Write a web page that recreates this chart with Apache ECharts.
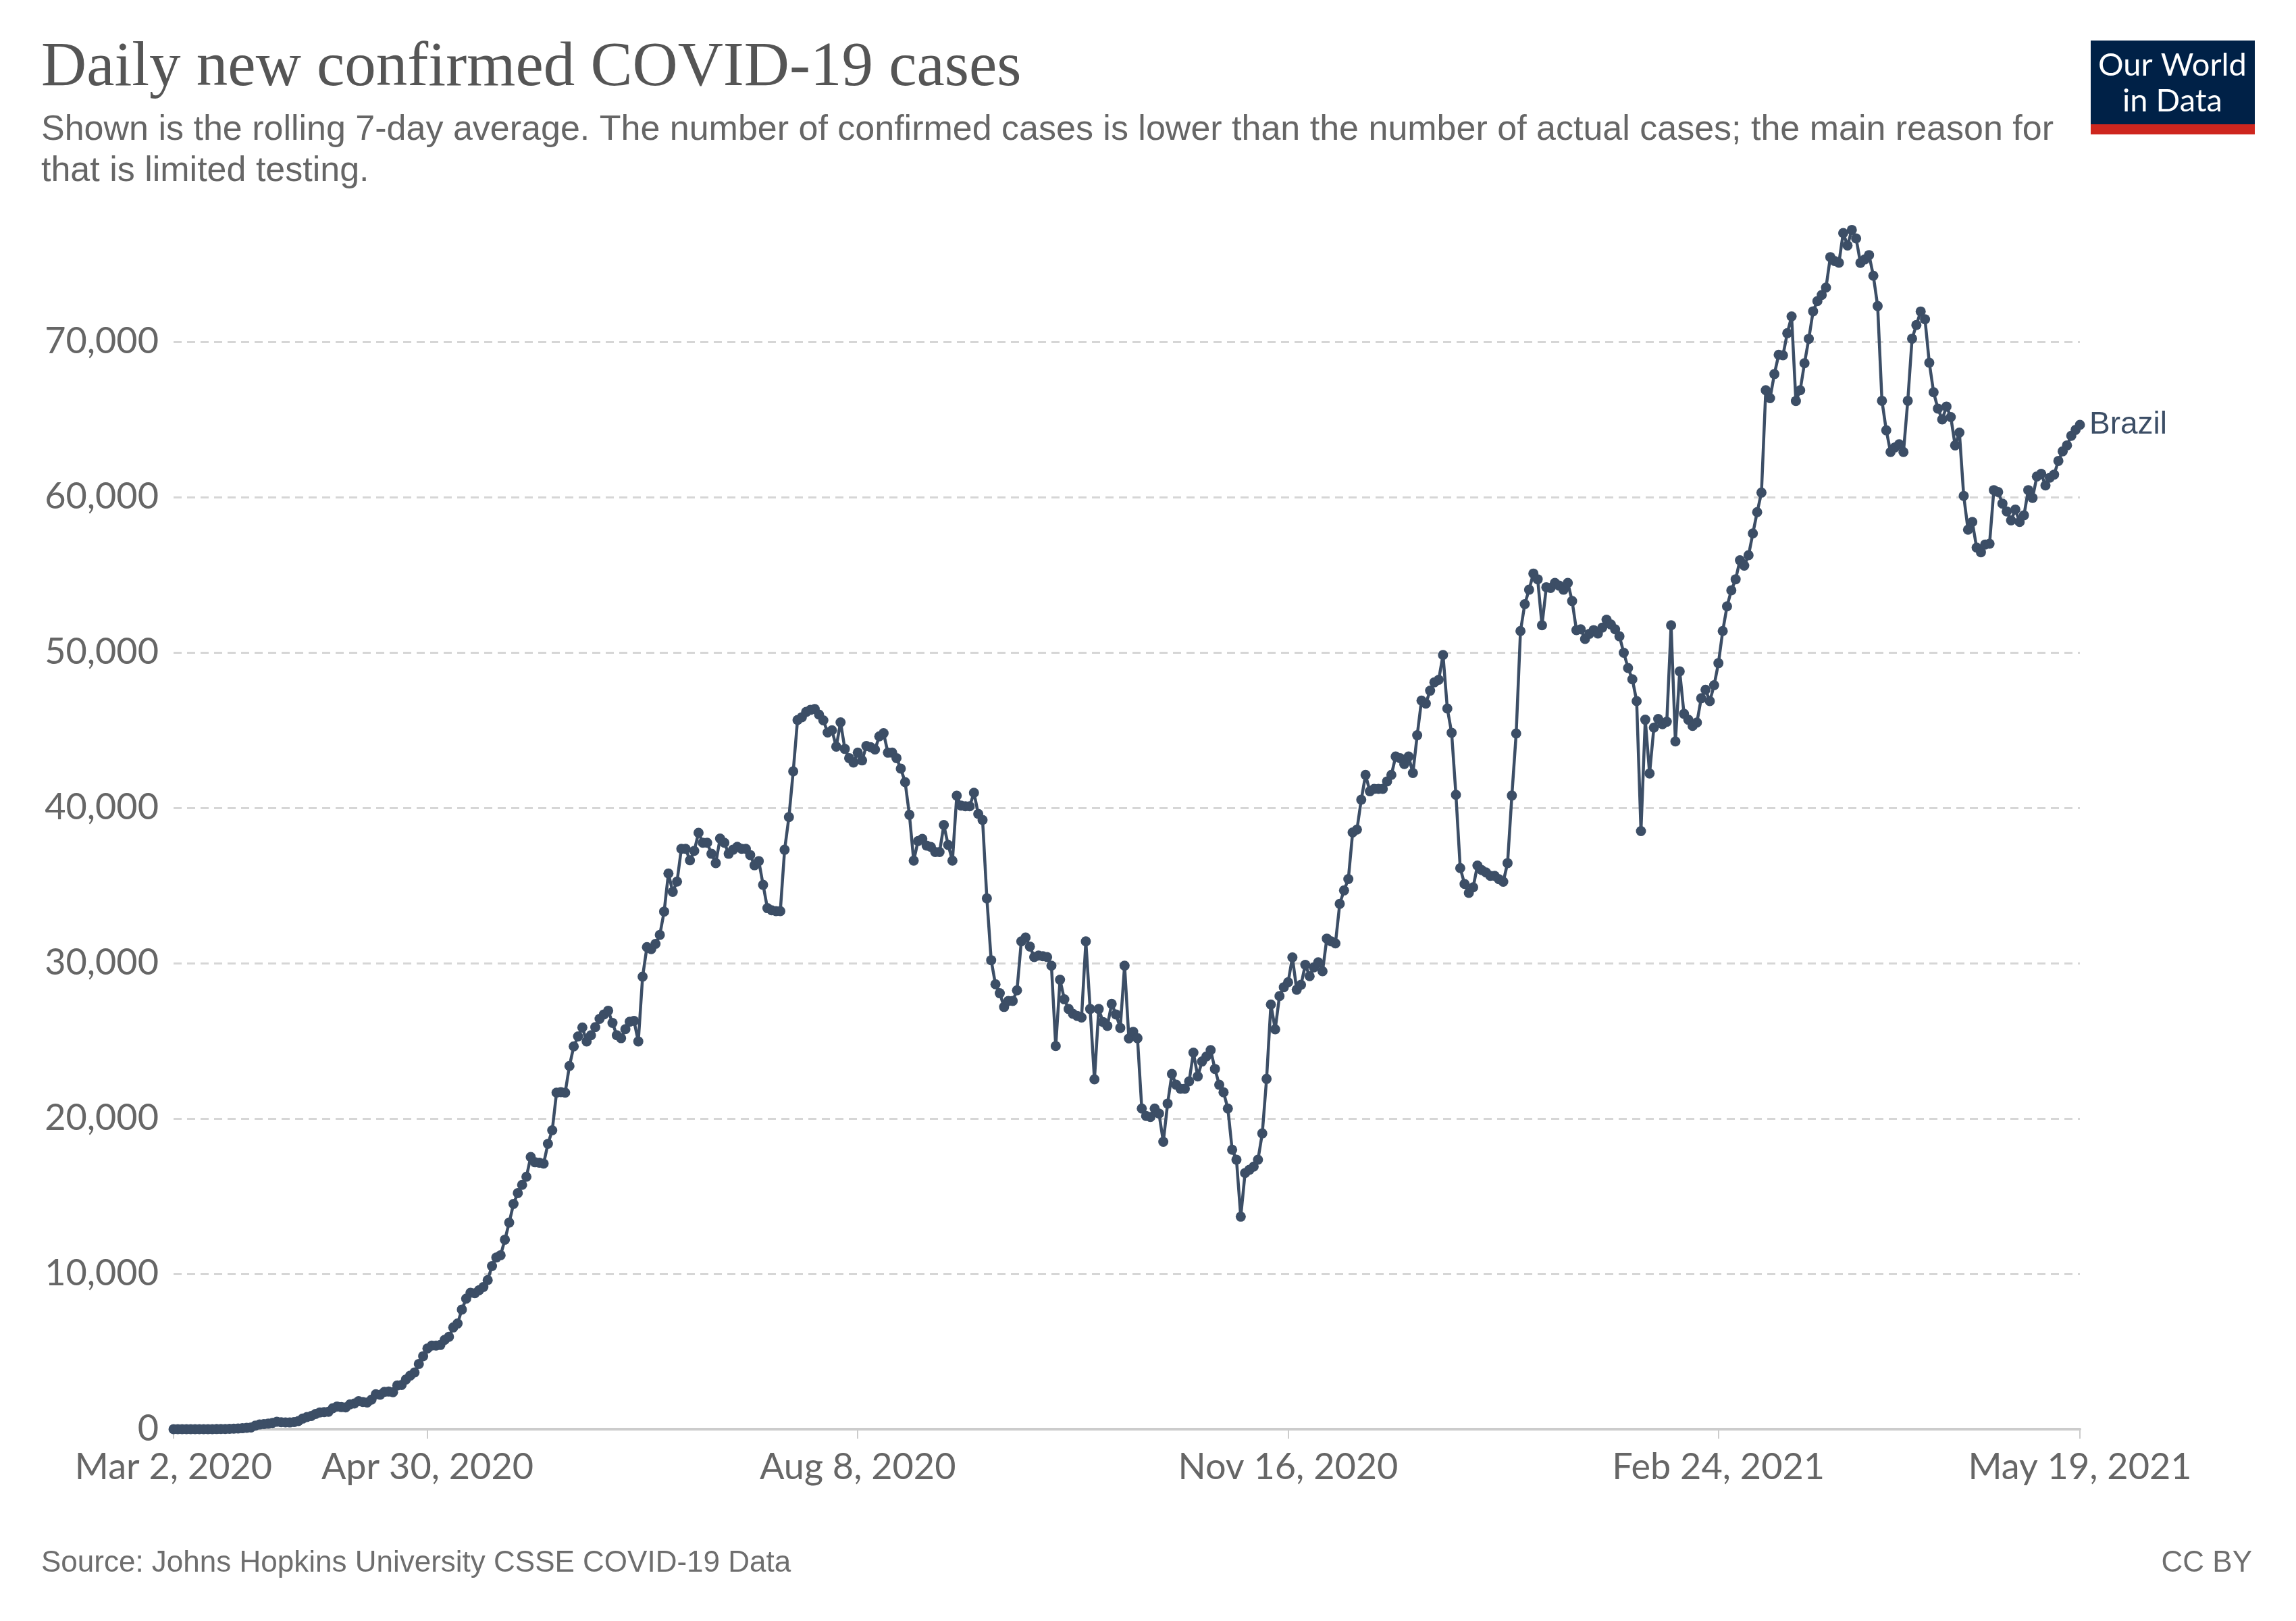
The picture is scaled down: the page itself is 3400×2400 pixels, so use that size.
<!DOCTYPE html>
<html lang="en">
<head>
<meta charset="UTF-8">
<title>Daily new confirmed COVID-19 cases</title>
<script src="https://cdn.jsdelivr.net/npm/echarts@6/dist/echarts.min.js"></script>
<style>
    html, body { margin: 0; padding: 0; background: #fff; }
    #chart { width: 3400px; height: 2400px; }
</style>
</head>
<body>
<div id="chart"></div>
<script>
    // Brazil, 7-day rolling average, one value per day
    // Mar 2 - Dec 31, 2020
    var cases2020 = [
        0, 0, 0, 0, 0, 1, 2, 3, 4, 5, 7, 10, 15, 20, 30, 45, 60, 85, 110,
        230, 300, 330, 360, 400, 480, 450, 440, 430, 460, 520, 680, 780, 850, 980, 1080, 1100, 1120, 1350, 1460,
        1420, 1400, 1600, 1650, 1800, 1750, 1720, 1900, 2250, 2220, 2400, 2420, 2380, 2820, 2850, 3200, 3450, 3650,
        4200, 4700, 5200, 5380, 5380, 5420, 5750, 5950, 6550, 6800, 7700, 8400, 8780, 8750, 8950, 9150, 9600,
        10500, 11050, 11200, 12200, 13300, 14500,
        15200, 15730, 16250, 17520, 17180, 17150, 17100, 18370, 19240, 21660,
        21700, 21660, 23380, 24640, 25280, 25860, 24960, 25360, 25880, 26410,
        26700, 26940, 26150, 25360, 25170, 25750, 26230, 26280, 24960, 29130,
        31030, 30900, 31240, 31820, 33320, 35770, 34590, 35250, 37360, 37360,
        36620, 37230, 38390, 37750, 37750, 37040, 36440, 38020, 37750, 37040,
        37300, 37490, 37360, 37360, 36960, 36300, 36570, 35040, 33540, 33400,
        33350, 33350, 37300, 39400, 42350, 45650, 45830, 46170, 46300, 46360,
        46000, 45630, 44850, 44990, 43940, 45500, 43790, 43200, 42910, 43550,
        43050, 43980, 43900, 43750, 44600, 44800, 43550, 43550, 43200, 42520,
        41650, 39550, 36600, 37860, 38000, 37570, 37480, 37150, 37150, 38890,
        37610, 36600, 40780, 40140, 40100, 40100, 40970, 39610, 39220, 34170,
        30190, 28640, 28060, 27180, 27570, 27570, 28250, 31400, 31650, 31070,
        30390, 30490, 30450, 30390, 29840, 24660, 28930, 27670, 27050, 26740,
        26600, 26500, 31400, 27050, 22520, 27050, 26210, 25960, 27380, 26700,
        25830, 29840, 25150, 25580, 25170, 20640, 20160, 20100,
        20640, 20320, 18500, 20960, 22870, 22170, 21910, 21910, 22390, 24240,
        22710, 23670, 23990, 24400, 23190, 22170, 21690, 20640, 17990, 17350,
        13680, 16490, 16700, 16900, 17350, 19040, 22550, 27340, 25740, 27880,
        28450, 28770, 30370, 28290, 28610, 29890, 29160, 29730, 30050, 29480,
        31580, 31400, 31270, 33820, 34680, 35410, 38410, 38600, 40520, 42120,
        41060, 41220, 41220, 41220, 41700, 42120, 43300, 43200, 42820, 43300,
        42240, 44670, 46900, 46710, 47540, 48080, 48240, 49840, 46390, 44830,
        40840, 36120, 35100, 34520, 34880, 36280, 35990
    ]
    // Jan 1 - May 19, 2021
    var cases2021 = [
        35840, 35620, 35620, 35400, 35240, 36440, 40790, 44780, 51380,
        53110, 54040, 55080, 54710, 51750, 54200, 54150, 54480, 54300, 54040,
        54480, 53310, 51440, 51490, 50870, 51200, 51440, 51220, 51600, 52110,
        51800, 51490, 51040, 49980, 49000, 48270, 46870, 38500, 45670, 42210,
        45160, 45720, 45380, 45540, 51750, 44270, 48780, 46050, 45670, 45270,
        45490, 47050, 47600, 46870, 47890, 49310, 51380, 52970, 54000, 54710,
        55930, 55590, 56260, 57660, 59030,
        60290, 66880, 66370, 67920, 69160, 69130, 70550, 71630, 66190, 66880,
        68620, 70190, 71960, 72620, 73010, 73490, 75450, 75200, 75090, 77000,
        76200, 77200, 76650, 75080, 75300, 75580, 74250, 72300, 66200, 64300,
        62900, 63200, 63400, 62900, 66200, 70200, 71080, 71950, 71450, 68650,
        66750, 65700, 65000, 65830, 65150, 63330, 64150, 60080, 57900, 58400,
        56750, 56450, 56950, 57000, 60450, 60330, 59580, 59080, 58500, 59200,
        58400, 58830, 60450, 59950, 61330, 61500, 60750, 61250, 61450, 62330,
        62950, 63330, 63950, 64330, 64650
    ]
    var tickLabels = ['Mar 2, 2020', 'Apr 30, 2020', 'Aug 8, 2020', 'Nov 16, 2020', 'Feb 24, 2021', 'May 19, 2021']
    var yTicks = [0, 10000, 20000, 30000, 40000, 50000, 60000, 70000]

    var lineColor = '#3c4e66'
    var months = ['Jan', 'Feb', 'Mar', 'Apr', 'May', 'Jun', 'Jul', 'Aug', 'Sep', 'Oct', 'Nov', 'Dec']

    var values = cases2020.concat(cases2021)
    // one category per day from Mar 2, 2020
    var days = values.map(function (v, i) {
        var d = new Date(Date.UTC(2020, 2, 2 + i))
        return months[d.getUTCMonth()] + ' ' + d.getUTCDate() + ', ' + d.getUTCFullYear()
    })

    function isTick (idx, value) {
        return tickLabels.indexOf(value) >= 0
    }

    var chart = echarts.init(document.getElementById('chart'))
    var option = {
        backgroundColor: '#fff',
        animation: false,
        grid: { left: 257, right: 320, top: 276, bottom: 284 },
        xAxis: {
            type: 'category',
            data: days,
            boundaryGap: false,
            axisLine: { lineStyle: { color: '#cccccc', width: 4 } },
            axisTick: { show: true, interval: isTick, length: 14, lineStyle: { color: '#cccccc', width: 2 } },
            axisLabel: {
                interval: isTick,
                color: '#666',
                fontFamily: 'Lato',
                fontSize: 54,
                margin: 30
            },
            splitLine: { show: false }
        },
        yAxis: {
            type: 'value',
            min: 0,
            max: 80000,
            interval: 10000,
            axisLine: { show: false },
            axisTick: { show: false },
            axisLabel: {
                color: '#666',
                fontFamily: 'Lato',
                fontSize: 54,
                margin: 22,
                showMaxLabel: false,
                formatter: function (v) {
                    return yTicks.indexOf(v) >= 0 ? v.toLocaleString('en-US') : ''
                }
            },
            splitLine: {
                show: true,
                lineStyle: {
                    color: ['transparent', '#d6d6d6', '#d6d6d6', '#d6d6d6', '#d6d6d6', '#d6d6d6', '#d6d6d6', '#d6d6d6', 'transparent'],
                    width: 3,
                    type: [12, 8]
                }
            }
        },
        series: [{
            name: 'Brazil',
            type: 'line',
            data: values,
            symbol: 'circle',
            symbolSize: 15,
            showSymbol: true,
            showAllSymbol: true,
            itemStyle: { color: lineColor },
            lineStyle: { color: lineColor, width: 4.5 },
            endLabel: {
                show: true,
                formatter: 'Brazil',
                color: lineColor,
                fontFamily: 'Liberation Sans',
                fontSize: 46,
                distance: 14
            },
            z: 3
        }],
        graphic: [
            {
                type: 'text', x: 61, y: 102,
                style: {
                    text: 'Daily new confirmed COVID-19 cases',
                    fill: '#555', font: '93px "Liberation Serif"',
                    textAlign: 'left', textVerticalAlign: 'middle', align: 'left', verticalAlign: 'middle'
                }
            },
            {
                type: 'text', x: 61, y: 193,
                style: {
                    text: 'Shown is the rolling 7-day average. The number of confirmed cases is lower than the number of actual cases; the main reason for',
                    fill: '#666', font: '52px "Liberation Sans"',
                    textAlign: 'left', textVerticalAlign: 'middle', align: 'left', verticalAlign: 'middle'
                }
            },
            {
                type: 'text', x: 61, y: 254,
                style: {
                    text: 'that is limited testing.',
                    fill: '#666', font: '52px "Liberation Sans"',
                    textAlign: 'left', textVerticalAlign: 'middle', align: 'left', verticalAlign: 'middle'
                }
            },
            // logo
            { type: 'rect', shape: { x: 3096, y: 60, width: 243, height: 124 }, style: { fill: '#002147' } },
            { type: 'rect', shape: { x: 3096, y: 184, width: 243, height: 15 }, style: { fill: '#ce261e' } },
            {
                type: 'text', x: 3217, y: 97,
                style: {
                    text: 'Our World', fill: '#fff', font: '47px Lato',
                    textAlign: 'center', textVerticalAlign: 'middle', align: 'center', verticalAlign: 'middle'
                }
            },
            {
                type: 'text', x: 3217, y: 150,
                style: {
                    text: 'in Data', fill: '#fff', font: '47px Lato',
                    textAlign: 'center', textVerticalAlign: 'middle', align: 'center', verticalAlign: 'middle'
                }
            },
            // footer
            {
                type: 'text', x: 61, y: 2315,
                style: {
                    text: 'Source: Johns Hopkins University CSSE COVID-19 Data',
                    fill: '#6e6e6e', font: '44px "Liberation Sans"',
                    textAlign: 'left', textVerticalAlign: 'middle', align: 'left', verticalAlign: 'middle'
                }
            },
            {
                type: 'text', x: 3335, y: 2315,
                style: {
                    text: 'CC BY', fill: '#6e6e6e', font: '44px "Liberation Sans"',
                    textAlign: 'right', textVerticalAlign: 'middle', align: 'right', verticalAlign: 'middle'
                }
            }
        ]
    }
    chart.setOption(option)
</script>
</body>
</html>
